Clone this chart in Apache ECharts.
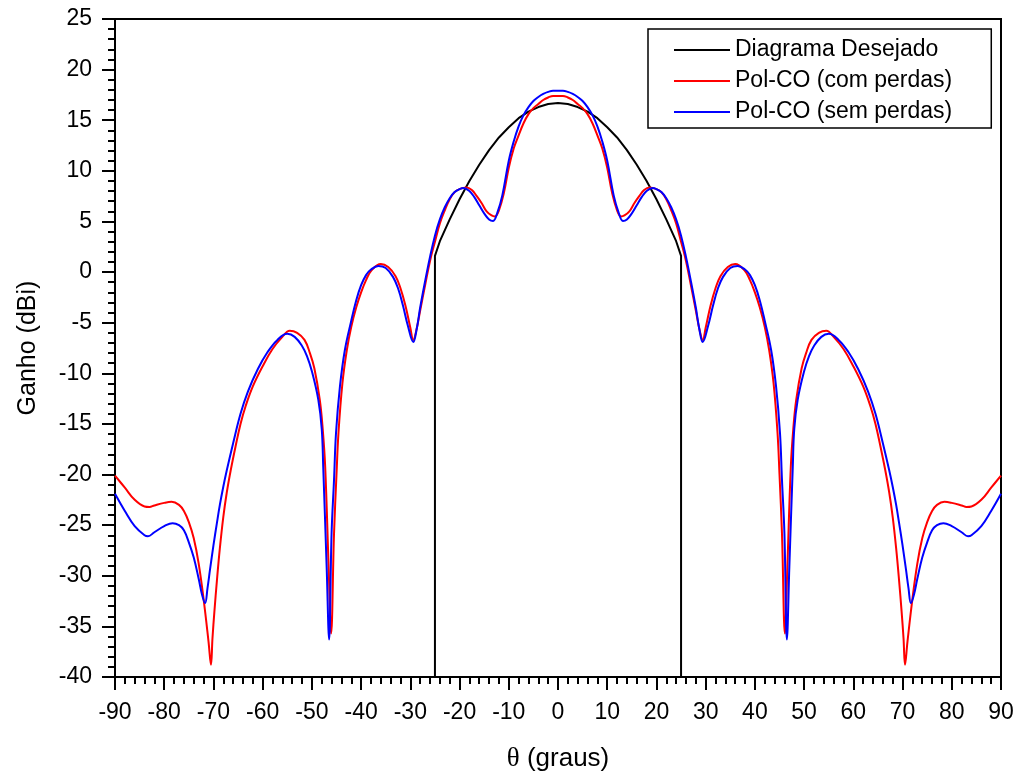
<!DOCTYPE html>
<html>
<head>
<meta charset="utf-8">
<script src="https://cdn.jsdelivr.net/npm/echarts@6/dist/echarts.min.js"></script>
<style>
  html, body { margin: 0; padding: 0; background: #fff; }
  #chart { width: 1021px; height: 778px; }
</style>
</head>
<body>
<div id="chart"></div>
<script>
// Desired pattern (black): shaped main beam between -25 and 25 degrees
const thetaDesejado = [-25, -25, -24, -22, -20, -18, -16, -14, -12, -10, -8, -6, -4, -2, 0,
  2, 4, 6, 8, 10, 12, 14, 16, 18, 20, 22, 24, 25, 25];
const gainDesejado = [-40, 1.6, 3.05, 5.2, 7.2, 9.0, 10.6, 12.05, 13.3, 14.3, 15.2, 15.85, 16.3, 16.6, 16.7,
  16.6, 16.3, 15.85, 15.2, 14.3, 13.3, 12.05, 10.6, 9.0, 7.2, 5.2, 3.05, 1.6, -40];

// Co-polar gain, with losses (red)
const thetaComPerdas = [-90, -88, -86, -84, -83, -82, -80, -78.5, -77, -76, -75, -74, -73, -72, -71,
  -70.5, -70.2, -69.8, -69.3, -68.7, -68, -67.3, -66.5, -65.5, -64.5, -63.5, -62, -60, -58, -56,
  -54.5, -53, -51.5, -50.4, -49.5, -48.4, -47.8, -47.3, -46.6, -46.1, -45.5, -45, -44.6, -43.8, -42.9,
  -42, -41, -40, -39, -38, -36, -34.5, -33, -32, -31, -30, -29.4, -28.8, -28, -27,
  -26, -25, -24, -23, -22, -21, -20, -18.6, -17.5, -16.5, -15.5, -14.5, -13.5, -12.8, -12,
  -11, -10, -9, -8, -7, -6, -5, -4, -3, -2, -1, 0,
  1, 2, 3, 4, 5, 6, 7, 8, 9, 10, 11, 12, 12.8, 13.5, 14.5,
  15.5, 16.5, 17.5, 18.6, 20, 21, 22, 23, 24, 25, 26, 27, 28, 28.8, 29.4,
  30, 31, 32, 33, 34.5, 36, 38, 39, 40, 41, 42, 42.9, 43.8, 44.6, 45,
  45.5, 46.1, 46.6, 47.3, 47.8, 48.4, 49.5, 50.4, 51.5, 53, 54.5, 56, 58, 60, 62,
  63.5, 64.5, 65.5, 66.5, 67.3, 68, 68.7, 69.3, 69.8, 70.2, 70.5, 71, 72, 73, 74,
  75, 76, 77, 78.5, 80, 82, 83, 84, 86, 88, 90];
const gainComPerdas = [-20.1, -21.3, -22.5, -23.15, -23.2, -23.05, -22.8, -22.7, -23.0, -23.6, -24.7, -26.3, -28.8, -32.3, -36.5,
  -38.8, -36.2, -33.5, -30.5, -27.3, -24.2, -21.8, -19.6, -17.2, -15.0, -13.3, -11.3, -9.3, -7.6, -6.4,
  -5.8, -6.0, -6.7, -8.0, -9.5, -12.6, -15.5, -19.2, -29.1, -35.7, -25.8, -20.0, -15.9, -11.0, -7.7,
  -5.4, -3.5, -2.0, -0.8, 0.1, 0.8, 0.5, -0.4, -1.6, -3.3, -5.5, -6.7, -5.8, -3.8, -1.3,
  1.1, 3.0, 4.8, 6.1, 7.2, 7.9, 8.2, 8.35, 8.1, 7.5, 6.8, 6.0, 5.6, 5.5, 6.1,
  7.8, 10.3, 12.2, 13.5, 14.7, 15.6, 16.2, 16.6, 17.0, 17.25, 17.4, 17.4,
  17.4, 17.25, 17.0, 16.6, 16.2, 15.6, 14.7, 13.5, 12.2, 10.3, 7.8, 6.1, 5.5, 5.6, 6.0,
  6.8, 7.5, 8.1, 8.35, 8.2, 7.9, 7.2, 6.1, 4.8, 3.0, 1.1, -1.3, -3.8, -5.8, -6.7,
  -5.5, -3.3, -1.6, -0.4, 0.5, 0.8, 0.1, -0.8, -2.0, -3.5, -5.4, -7.7, -11.0, -15.9, -20.0,
  -25.8, -35.7, -29.1, -19.2, -15.5, -12.6, -9.5, -8.0, -6.7, -6.0, -5.8, -6.4, -7.6, -9.3, -11.3,
  -13.3, -15.0, -17.2, -19.6, -21.8, -24.2, -27.3, -30.5, -33.5, -36.2, -38.8, -36.5, -32.3, -28.8, -26.3,
  -24.7, -23.6, -23.0, -22.7, -22.8, -23.05, -23.2, -23.15, -22.5, -21.3, -20.1];

// Co-polar gain, lossless (blue)
const thetaSemPerdas = [-90, -88, -86, -84, -83.3, -82, -80, -78.3, -77, -76, -75, -74, -73, -72.3, -71.7,
  -71.2, -70.7, -70, -69.3, -68.7, -68, -67.3, -66, -64.5, -63, -61, -59, -57, -55, -53.5,
  -52, -51, -50, -48.7, -48, -47.7, -47, -46.5, -46, -45.5, -45.1, -44.3, -43.3, -42, -41,
  -40, -39, -38, -36.5, -35, -33.5, -32.5, -31.5, -30.5, -29.4, -28.7, -28, -27, -26, -25,
  -24, -23, -22, -21, -20, -19.2, -18, -17, -16, -15, -14, -13.2, -12.3, -11.3, -10,
  -9, -8, -7, -6, -5, -4, -3, -2, -1, 0,
  1, 2, 3, 4, 5, 6, 7, 8, 9, 10, 11.3, 12.3, 13.2, 14, 15,
  16, 17, 18, 19.2, 20, 21, 22, 23, 24, 25, 26, 27, 28, 28.7, 29.4,
  30.5, 31.5, 32.5, 33.5, 35, 36.5, 38, 39, 40, 41, 42, 43.3, 44.3, 45.1, 45.5,
  46, 46.5, 47, 47.7, 48, 48.7, 50, 51, 52, 53.5, 55, 57, 59, 61, 63,
  64.5, 66, 67.3, 68, 68.7, 69.3, 70, 70.7, 71.2, 71.7, 72.3, 73, 74, 75, 76,
  77, 78.3, 80, 82, 83.3, 84, 86, 88, 90];
const gainSemPerdas = [-21.9, -23.6, -25.1, -26.0, -26.1, -25.7, -25.1, -24.8, -25.0, -25.5, -26.7, -28.2, -30.3, -31.9, -32.7,
  -31.2, -29.4, -27.0, -24.8, -23.0, -21.2, -19.6, -16.9, -14.0, -11.8, -9.6, -7.9, -6.7, -6.1, -6.4,
  -7.3, -8.3, -9.8, -12.6, -15.5, -19.2, -29.1, -36.3, -25.8, -20.5, -15.9, -11.3, -7.7, -4.8, -2.8,
  -1.3, -0.3, 0.25, 0.6, 0.4, -0.5, -1.6, -3.3, -5.3, -6.9, -5.6, -3.5, -0.9, 1.5, 3.6,
  5.2, 6.4, 7.3, 7.9, 8.2, 8.3, 8.0, 7.4, 6.6, 5.8, 5.2, 5.05, 5.9, 7.6, 11.0,
  12.9, 14.4, 15.5, 16.3, 16.9, 17.3, 17.6, 17.8, 17.9, 17.9,
  17.9, 17.8, 17.6, 17.3, 16.9, 16.3, 15.5, 14.4, 12.9, 11.0, 7.6, 5.9, 5.05, 5.2, 5.8,
  6.6, 7.4, 8.0, 8.3, 8.2, 7.9, 7.3, 6.4, 5.2, 3.6, 1.5, -0.9, -3.5, -5.6, -6.9,
  -5.3, -3.3, -1.6, -0.5, 0.4, 0.6, 0.25, -0.3, -1.3, -2.8, -4.8, -7.7, -11.3, -15.9, -20.5,
  -25.8, -36.3, -29.1, -19.2, -15.5, -12.6, -9.8, -8.3, -7.3, -6.4, -6.1, -6.7, -7.9, -9.6, -11.8,
  -14.0, -16.9, -19.6, -21.2, -23.0, -24.8, -27.0, -29.4, -31.2, -32.7, -31.9, -30.3, -28.2, -26.7, -25.5,
  -25.0, -24.8, -25.1, -25.7, -26.1, -26.0, -25.1, -23.6, -21.9];

const legendNames = ['Diagrama Desejado', 'Pol-CO (com perdas)', 'Pol-CO (sem perdas)'];
const xTicks = { min: -90, max: 90, step: 10 };
const yTicks = { min: -40, max: 25, step: 5 };

const pairs = (xs, ys) => xs.map((x, i) => [x, ys[i]]);
const FONT = "'Liberation Sans', Arial, sans-serif";

const chart = echarts.init(document.getElementById('chart'), null, { renderer: 'canvas' });

chart.setOption({
  animation: false,
  backgroundColor: '#ffffff',
  grid: {
    left: 115, right: 20, top: 19, bottom: 101,
    show: true, borderColor: '#000', borderWidth: 2, backgroundColor: 'transparent'
  },
  legend: {
    orient: 'vertical',
    left: 648, top: 29,
    data: legendNames,
    icon: 'rect',
    padding: [8, 39, 3, 26],
    itemGap: 5,
    itemWidth: 56,
    itemHeight: 2,
    backgroundColor: '#fff',
    borderColor: '#000',
    borderWidth: 1.5,
    borderRadius: 0,
    textStyle: { fontFamily: FONT, fontSize: 23, color: '#000', lineHeight: 26 }
  },
  xAxis: {
    type: 'value',
    min: xTicks.min, max: xTicks.max, interval: xTicks.step,
    name: '{t|θ} (graus)',
    nameLocation: 'middle',
    nameGap: 68,
    nameTextStyle: {
      fontFamily: FONT, fontSize: 26, color: '#000',
      rich: { t: { fontFamily: "'Liberation Serif', 'DejaVu Serif', serif", fontSize: 27, color: '#000' } }
    },
    axisLine: { show: true, onZero: false, lineStyle: { color: '#000', width: 2 } },
    axisTick: { show: true, inside: false, length: 13, lineStyle: { color: '#000', width: 2 } },
    minorTick: { show: true, splitNumber: 5, length: 7, lineStyle: { color: '#000', width: 2 } },
    splitLine: { show: false },
    axisLabel: { fontFamily: FONT, fontSize: 23, color: '#000', margin: 24 }
  },
  yAxis: {
    type: 'value',
    min: yTicks.min, max: yTicks.max, interval: yTicks.step,
    name: 'Ganho (dBi)',
    nameLocation: 'middle',
    nameGap: 74,
    nameTextStyle: { fontFamily: FONT, fontSize: 25, color: '#000' },
    axisLine: { show: true, onZero: false, lineStyle: { color: '#000', width: 2 } },
    axisTick: { show: true, inside: false, length: 13, lineStyle: { color: '#000', width: 2 } },
    minorTick: { show: true, splitNumber: 5, length: 7, lineStyle: { color: '#000', width: 2 } },
    splitLine: { show: false },
    axisLabel: { fontFamily: FONT, fontSize: 23, color: '#000', margin: 23 }
  },
  series: [
    {
      name: legendNames[0], type: 'line', symbol: 'none', smooth: false,
      data: pairs(thetaDesejado, gainDesejado),
      lineStyle: { color: '#000000', width: 2 }, itemStyle: { color: '#000000' }
    },
    {
      name: legendNames[1], type: 'line', symbol: 'none', smooth: 0.4,
      data: pairs(thetaComPerdas, gainComPerdas),
      lineStyle: { color: '#ff0000', width: 2 }, itemStyle: { color: '#ff0000' }
    },
    {
      name: legendNames[2], type: 'line', symbol: 'none', smooth: 0.4,
      data: pairs(thetaSemPerdas, gainSemPerdas),
      lineStyle: { color: '#0000ff', width: 2 }, itemStyle: { color: '#0000ff' }
    }
  ]
});
</script>
</body>
</html>
